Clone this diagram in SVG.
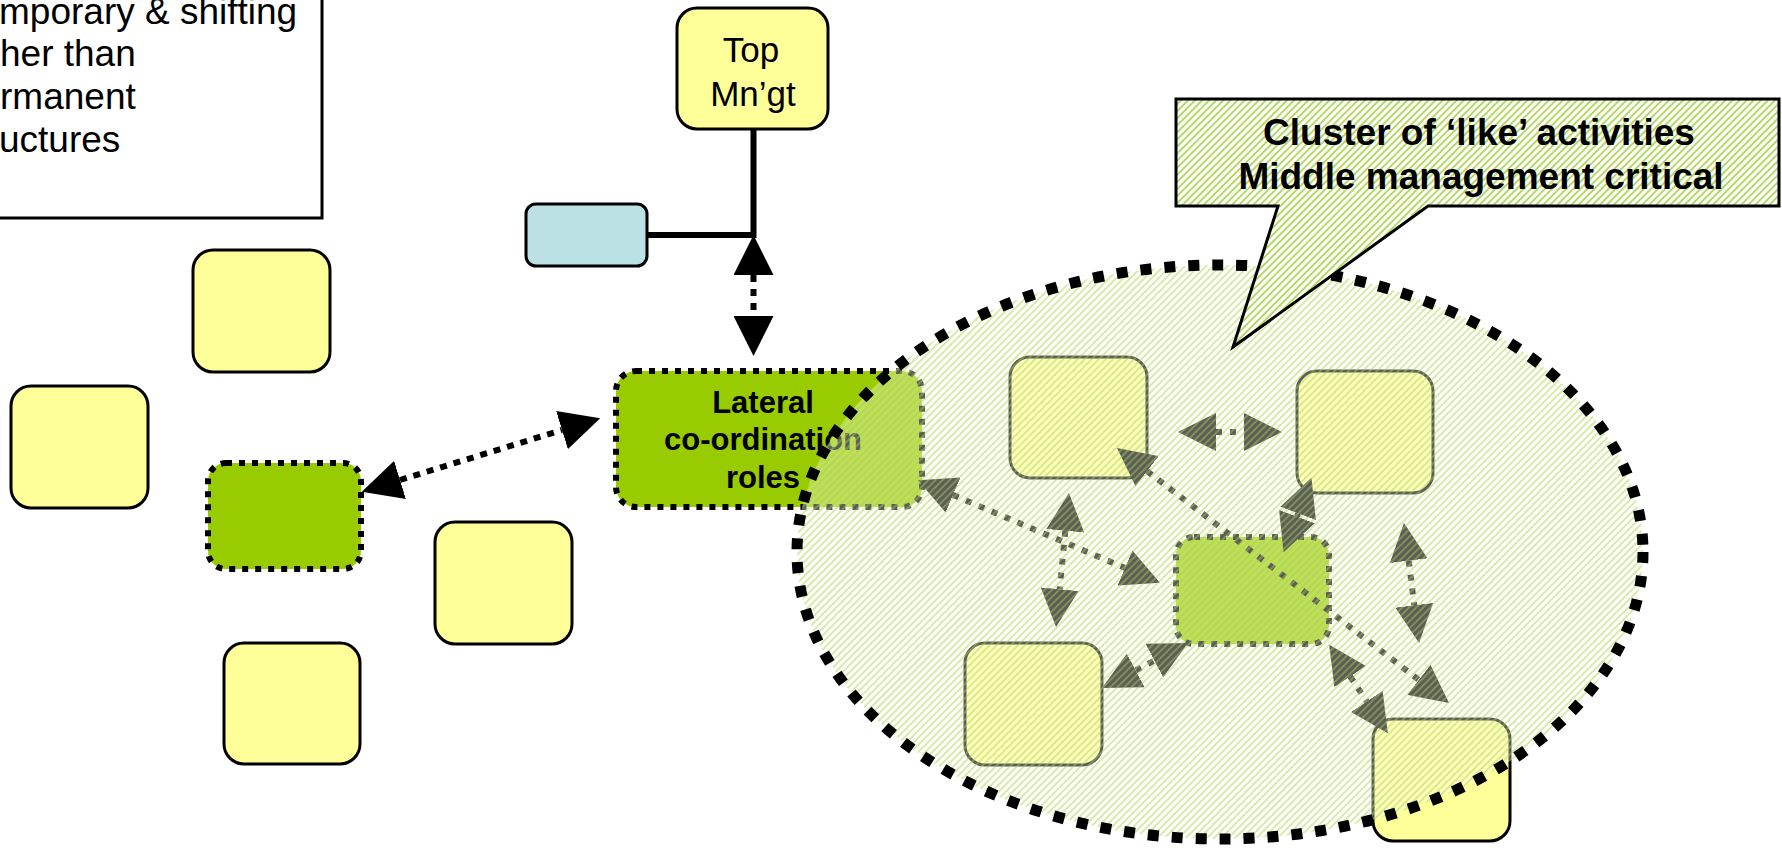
<svg xmlns="http://www.w3.org/2000/svg" width="1782" height="848" viewBox="0 0 1782 848">
<style>
.txt{font-family:"Liberation Sans",Arial,sans-serif;fill:#000}
.yel{fill:#ffff99;stroke:#000;stroke-width:3}
.grn{fill:#99cc00;stroke:#000;stroke-width:6;stroke-dasharray:6 7}
.blu{fill:#bbe1e4;stroke:#000;stroke-width:3}
.solid{fill:none;stroke:#000;stroke-width:6}
.dotB{fill:none;stroke:#000;stroke-width:6;stroke-dasharray:7 7}
.dotI{fill:none;stroke:#000;stroke-width:6;stroke-dasharray:6 8}
</style>
<defs>
<marker id="ahB" viewBox="0 0 40 40" refX="0" refY="20" markerWidth="40" markerHeight="40" markerUnits="userSpaceOnUse" orient="auto-start-reverse"><path d="M0,0 L40,20 L0,40 z" fill="#000"/></marker>
<marker id="ahI" viewBox="0 0 38 38" refX="0" refY="19" markerWidth="38" markerHeight="38" markerUnits="userSpaceOnUse" orient="auto-start-reverse"><path d="M0,0 L38,19 L0,38 z" fill="#000"/></marker>
<pattern id="hatchO" width="5" height="5" patternUnits="userSpaceOnUse" patternTransform="rotate(45)">
<rect width="5" height="5" fill="#fff" fill-opacity="0.36"/>
<line x1="1" y1="0" x2="1" y2="5" stroke="#a6d13d" stroke-opacity="0.5" stroke-width="1.8"/>
</pattern>
<pattern id="hatchC" width="5" height="5" patternUnits="userSpaceOnUse" patternTransform="rotate(45)">
<rect width="5" height="5" fill="#fff"/>
<line x1="1" y1="0" x2="1" y2="5" stroke="#a4d040" stroke-width="1.6"/>
</pattern>
</defs>

<g id="note">
<rect x="-10" y="-10" width="332" height="228" fill="#fff" stroke="#000" stroke-width="3"/>
<g class="txt" font-size="37">
<text x="-1" y="24">mporary &amp; shifting</text>
<text x="0" y="66">her than</text>
<text x="0" y="109">rmanent</text>
<text x="-1" y="152">uctures</text>
</g>
</g>

<g id="box-left-1"><rect class="yel" x="193" y="250" width="137" height="122" rx="20"/></g>
<g id="box-left-2"><rect class="yel" x="11" y="386" width="137" height="122" rx="20"/></g>
<g id="box-left-3"><rect class="yel" x="435" y="522" width="137" height="122" rx="20"/></g>
<g id="box-left-4"><rect class="yel" x="224" y="643" width="136" height="121" rx="20"/></g>
<g id="box-green-left"><rect class="grn" x="208" y="463" width="153" height="106" rx="18"/></g>

<g id="top-mngt">
<rect class="yel" x="677" y="8" width="151" height="121" rx="20"/>
<text class="txt" font-size="35" text-anchor="middle" x="751" y="62">Top</text>
<text class="txt" font-size="35" text-anchor="middle" x="753" y="106">Mn’gt</text>
</g>
<g id="staff-box"><rect class="blu" x="526" y="204" width="121" height="62" rx="10"/></g>

<g id="lateral">
<rect class="grn" x="616" y="371" width="306" height="136" rx="20"/>
<g class="txt" font-size="31" font-weight="bold" text-anchor="middle">
<text x="763" y="413">Lateral</text>
<text x="763" y="450">co-ordination</text>
<text x="763" y="488">roles</text>
</g>
</g>

<g id="inner-a"><rect class="yel" x="1010" y="357" width="137" height="121" rx="20"/></g>
<g id="inner-b"><rect class="yel" x="1297" y="371" width="136" height="122" rx="20"/></g>
<g id="inner-c"><rect class="grn" x="1176" y="537" width="153" height="107" rx="18"/></g>
<g id="inner-d"><rect class="yel" x="965" y="643" width="137" height="122" rx="20"/></g>
<g id="inner-e"><rect class="yel" x="1373" y="719" width="137" height="122" rx="20"/></g>

<g id="connectors">
<path class="solid" d="M753.5,129 V235 M647,235 H756.5"/>
<line class="dotB" x1="753.5" y1="275" x2="753.5" y2="316" marker-start="url(#ahB)" marker-end="url(#ahB)"/>
<line class="dotB" x1="400" y1="480" x2="562" y2="430" marker-start="url(#ahB)" marker-end="url(#ahB)"/>
<line class="dotI" x1="1216" y1="432" x2="1244" y2="432" marker-start="url(#ahI)" marker-end="url(#ahI)"/>
<line class="dotI" x1="953" y1="495" x2="1125" y2="568" marker-start="url(#ahI)" marker-end="url(#ahI)"/>
<line class="dotI" x1="1065.3" y1="530.8" x2="1059.7" y2="589.2" marker-start="url(#ahI)" marker-end="url(#ahI)"/>
<line class="dotI" x1="1147.1" y1="471.1" x2="1418.9" y2="679.9" marker-start="url(#ahI)" marker-end="url(#ahI)"/>
<line class="dotI" x1="1296.9" y1="516.6" x2="1298.1" y2="513.4" marker-start="url(#ahI)" marker-end="url(#ahI)"/>
<line class="dotI" x1="1408.7" y1="560.7" x2="1414.3" y2="605.3" marker-start="url(#ahI)" marker-end="url(#ahI)"/>
<line class="dotI" x1="1135.7" y1="670.4" x2="1154.3" y2="660.6" marker-start="url(#ahI)" marker-end="url(#ahI)"/>
<line class="dotI" x1="1350.2" y1="676.5" x2="1366.8" y2="701.5" marker-start="url(#ahI)" marker-end="url(#ahI)"/>
</g>

<g id="cluster">
<ellipse cx="1220" cy="552" rx="423" ry="287" fill="url(#hatchO)" stroke="#000" stroke-width="11" stroke-dasharray="11 13"/>
</g>

<g id="callout">
<path d="M1176,99 H1779 V206 H1428 L1233,347 L1278,206 H1176 Z" fill="url(#hatchC)" stroke="#000" stroke-width="3"/>
<g class="txt" font-size="37" font-weight="bold" text-anchor="middle">
<text x="1479" y="145">Cluster of ‘like’ activities</text>
<text x="1481" y="189">Middle management critical</text>
</g>
</g>
</svg>
